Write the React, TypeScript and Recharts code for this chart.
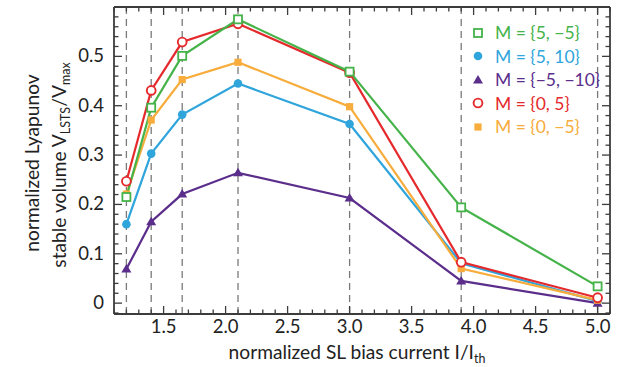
import React from "react";
import {
  LineChart,
  Line,
  XAxis,
  YAxis,
  ReferenceLine,
} from "recharts";

// bias current points (I/Ith)
const currents = [1.2, 1.4, 1.65, 2.1, 3.0, 3.9, 5.0];

// normalized stable volume per mismatch setting
const m5m5 = [0.215, 0.396, 0.501, 0.575, 0.469, 0.194, 0.034];
const m5p10 = [0.16, 0.303, 0.382, 0.445, 0.363, 0.081, 0.004];
const mm5m10 = [0.069, 0.165, 0.221, 0.264, 0.213, 0.045, 0.0];
const m0p5 = [0.247, 0.431, 0.529, 0.566, 0.467, 0.083, 0.011];
const m0m5 = [0.221, 0.371, 0.453, 0.488, 0.398, 0.07, 0.006];

const xMajorTicks = [1.5, 2.0, 2.5, 3.0, 3.5, 4.0, 4.5, 5.0];
const yMajorTicks = [0, 0.1, 0.2, 0.3, 0.4, 0.5];

const X_DOMAIN: [number, number] = [1.1, 5.1];
const Y_DOMAIN: [number, number] = [-0.022, 0.6];

// minor ticks: every 0.1 on x, every 0.02 on y
const xTicks = Array.from({ length: 41 }, (_, i) => Math.round((1.1 + i * 0.1) * 100) / 100);
const yTicks = Array.from({ length: 32 }, (_, i) => Math.round((-0.02 + i * 0.02) * 1000) / 1000);

const isMajor = (v: number, list: number[]) => list.some((m) => Math.abs(m - v) < 1e-6);

type Shape = "openSquare" | "circle" | "triangle" | "openCircle" | "square";

const series: { key: string; name: string; color: string; shape: Shape; values: number[] }[] = [
  { key: "b", name: "M = {5, 10}", color: "#30a5dc", shape: "circle", values: m5p10 },
  { key: "p", name: "M = {\u22125, \u221210}", color: "#5b2e8c", shape: "triangle", values: mm5m10 },
  { key: "o", name: "M = {0, \u22125}", color: "#f7ac3c", shape: "square", values: m0m5 },
  { key: "r", name: "M = {0, 5}", color: "#e52a2d", shape: "openCircle", values: m0p5 },
  { key: "g", name: "M = {5, \u22125}", color: "#45b349", shape: "openSquare", values: m5m5 },
];

const legendOrder = ["g", "b", "p", "r", "o"];

const data = currents.map((x, i) => {
  const row: Record<string, number> = { x };
  series.forEach((s) => (row[s.key] = s.values[i]));
  return row;
});

const AXIS = "#3c3c3c";
const FONT = "Lato, 'Liberation Sans', sans-serif";

const Marker = ({ cx, cy, shape, color }: { cx: number; cy: number; shape: Shape; color: string }) => {
  switch (shape) {
    case "openSquare":
      return <rect x={cx - 4} y={cy - 4} width={8} height={8} fill="#fff" stroke={color} strokeWidth={1.8} />;
    case "square":
      return <rect x={cx - 3.6} y={cy - 3.6} width={7.2} height={7.2} fill={color} />;
    case "circle":
      return <circle cx={cx} cy={cy} r={4.3} fill={color} />;
    case "openCircle":
      return <circle cx={cx} cy={cy} r={4.4} fill="#fff" stroke={color} strokeWidth={1.9} />;
    case "triangle":
      return <path d={`M${cx},${cy - 5} L${cx + 5},${cy + 3.5} L${cx - 5},${cy + 3.5} Z`} fill={color} />;
  }
};

const BottomTick = (props: any) => {
  const { x, y, payload } = props;
  const major = isMajor(payload.value, xMajorTicks);
  return (
    <g>
      <line x1={x} x2={x} y1={y} y2={y - (major ? 8 : 4.5)} stroke={AXIS} strokeWidth={1.3} />
      {major && (
        <text x={x} y={y + 19} textAnchor="middle" fontSize={18.5} fill="#222" fontFamily={FONT}>
          {payload.value.toFixed(1)}
        </text>
      )}
    </g>
  );
};

const TopTick = (props: any) => {
  const { x, y, payload } = props;
  const major = isMajor(payload.value, xMajorTicks);
  return <line x1={x} x2={x} y1={y} y2={y + (major ? 8 : 4.5)} stroke={AXIS} strokeWidth={1.3} />;
};

const LeftTick = (props: any) => {
  const { x, y, payload } = props;
  const major = isMajor(payload.value, yMajorTicks);
  const v = payload.value as number;
  return (
    <g>
      <line x1={x} x2={x + (major ? 8 : 4.5)} y1={y} y2={y} stroke={AXIS} strokeWidth={1.3} />
      {major && (
        <text x={x - 10} y={y + 6} textAnchor="end" fontSize={18.5} fill="#222" fontFamily={FONT}>
          {v === 0 ? "0" : v.toFixed(1)}
        </text>
      )}
    </g>
  );
};

const RightTick = (props: any) => {
  const { x, y, payload } = props;
  const major = isMajor(payload.value, yMajorTicks);
  return <line x1={x} x2={x - (major ? 8 : 4.5)} y1={y} y2={y} stroke={AXIS} strokeWidth={1.3} />;
};

export default function App() {
  return (
    <div style={{ position: "absolute", left: 0, top: 0, width: 628, height: 367, background: "#fff" }}>
      <LineChart width={628} height={367} data={data} margin={{ top: 6, right: 0, left: 0, bottom: 0 }}>
        <XAxis
          xAxisId="b"
          dataKey="x"
          type="number"
          domain={X_DOMAIN}
          ticks={xTicks}
          interval={0}
          height={53}
          tickSize={0}
          tickMargin={0}
          tick={BottomTick}
          tickLine={false}
          axisLine={{ stroke: AXIS, strokeWidth: 1.8 }}
          allowDataOverflow
        />
        <XAxis
          xAxisId="t"
          orientation="top"
          dataKey="x"
          type="number"
          domain={X_DOMAIN}
          ticks={xTicks}
          interval={0}
          height={1}
          tickSize={0}
          tickMargin={0}
          tick={TopTick}
          tickLine={false}
          axisLine={{ stroke: AXIS, strokeWidth: 1.8 }}
          allowDataOverflow
        />
        <YAxis
          yAxisId="l"
          type="number"
          domain={Y_DOMAIN}
          ticks={yTicks}
          interval={0}
          width={114}
          tickSize={0}
          tickMargin={0}
          tick={LeftTick}
          tickLine={false}
          axisLine={{ stroke: AXIS, strokeWidth: 1.8 }}
          allowDataOverflow
        />
        <YAxis
          yAxisId="r"
          orientation="right"
          type="number"
          domain={Y_DOMAIN}
          ticks={yTicks}
          interval={0}
          width={18}
          tickSize={0}
          tickMargin={0}
          tick={RightTick}
          tickLine={false}
          axisLine={{ stroke: AXIS, strokeWidth: 1.8 }}
          allowDataOverflow
        />
        {currents.map((c) => (
          <ReferenceLine
            key={c}
            xAxisId="b"
            yAxisId="l"
            x={c}
            stroke="#7a7a7a"
            strokeWidth={1.3}
            strokeDasharray="7 5"
          />
        ))}
        {series.map((s) => (
          <Line
            key={s.key}
            xAxisId="b"
            yAxisId="l"
            dataKey={s.key}
            name={s.name}
            stroke={s.color}
            strokeWidth={2.2}
            isAnimationActive={false}
            dot={(p: any) => (
              <Marker key={`${s.key}-${p.index}`} cx={p.cx} cy={p.cy} shape={s.shape} color={s.color} />
            )}
            activeDot={false}
          />
        ))}
      </LineChart>

      {/* axis titles */}
      <svg
        width={628}
        height={367}
        style={{ position: "absolute", left: 0, top: 0, pointerEvents: "none" }}
        fontFamily={FONT}
        fill="#222"
      >
        <text x={357} y={359} textAnchor="middle" fontSize={19.2}>
          normalized SL bias current I/I
          <tspan fontSize={12.5} dy={4}>th</tspan>
        </text>
        <g transform="translate(39,163) rotate(-90)">
          <text x={0} y={0} textAnchor="middle" fontSize={19.2}>
            normalized Lyapunov
          </text>
        </g>
        <g transform="translate(66,165) rotate(-90)">
          <text x={0} y={0} textAnchor="middle" fontSize={19.2}>
            stable volume V
            <tspan fontSize={12.5} dy={4}>LSTS</tspan>
            <tspan dy={-4}>/V</tspan>
            <tspan fontSize={12.5} dy={4}>max</tspan>
          </text>
        </g>
      </svg>

      {/* legend */}
      <div style={{ position: "absolute", left: 468, top: 21, fontFamily: FONT, fontSize: 17.5 }}>
        {legendOrder.map((k) => {
          const s = series.find((d) => d.key === k)!;
          return (
            <div key={k} style={{ display: "flex", alignItems: "center", height: 23.5 }}>
              <svg width={20} height={20} style={{ marginRight: 7 }}>
                <Marker cx={10} cy={10} shape={s.shape} color={s.color} />
              </svg>
              <span style={{ color: s.color, whiteSpace: "nowrap" }}>{s.name}</span>
            </div>
          );
        })}
      </div>
    </div>
  );
}
